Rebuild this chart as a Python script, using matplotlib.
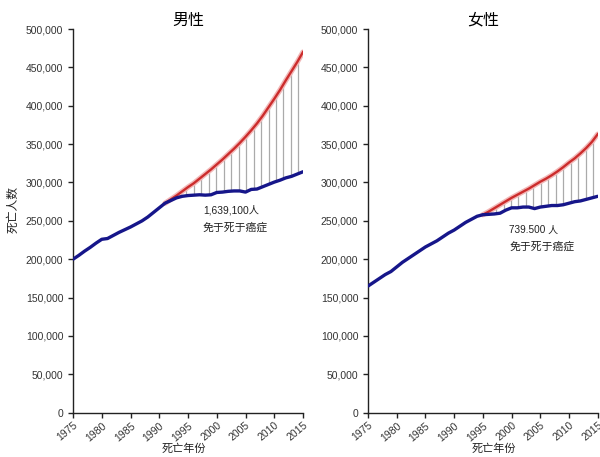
import matplotlib
matplotlib.use("Agg")
import matplotlib.pyplot as plt
import numpy as np
from matplotlib.ticker import FuncFormatter

plt.rcParams['font.family'] = ['Liberation Sans', 'Noto Sans CJK SC', 'DejaVu Sans']

years = list(range(1975, 2016))

male_actual = [200, 205, 210.5, 215.5, 221, 226, 227, 231, 235, 238.5,
               242, 246, 250, 255, 261, 267, 273, 276.5, 280, 282,
               283, 283.5, 284, 283.5, 284, 287, 287.5, 288.5, 289, 289,
               287.5, 291, 291.5, 294.5, 297.5, 300.5, 303, 306, 308, 311, 314]
male_expected_years = list(range(1991, 2016))
male_expected = [273, 278, 283, 288.5, 294, 299, 305, 311, 317, 323.5,
                 330, 337, 344, 351.5, 359.5, 368, 377, 387, 398, 409,
                 420.5, 433, 445, 457, 470]

female_actual = [165, 170, 175, 180, 184, 190, 196, 201, 206, 211,
                 216, 220, 224, 229, 234, 238, 243, 248, 252, 256,
                 258, 258.5, 259, 260, 264, 267, 267, 268, 268, 266,
                 268, 269, 270, 270, 271, 273, 275, 276, 278, 280, 282]
female_expected_years = list(range(1995, 2016))
female_expected = [258, 262, 266.5, 271, 275.5, 280, 284, 288, 292, 296.5,
                   301, 305, 309.5, 314.5, 320, 326, 331.5, 338, 345, 353, 363]

male_drop_years = [1993.4, 1994.7, 1996.0, 1997.3, 1998.6, 1999.9, 2001.2, 2002.5,
                   2003.8, 2005.1, 2006.4, 2007.7, 2009.0, 2010.3, 2011.6, 2012.9, 2014.2]
female_drop_years = [1996.0, 1997.3, 1998.6, 1999.9, 2001.2, 2002.5, 2003.8,
                     2005.1, 2006.4, 2007.7, 2009.0, 2010.3, 2011.6, 2012.9, 2014.2]

titles = ['男性', '女性']
annot_num = ['1,639,100人', '739.500 人']
annot_txt = '免于死于癌症'
xticks = [1975, 1980, 1985, 1990, 1995, 2000, 2005, 2010, 2015]
yticks = [0, 50000, 100000, 150000, 200000, 250000, 300000, 350000, 400000, 450000, 500000]

fig = plt.figure(figsize=(6, 4.57), dpi=100)
ax1 = fig.add_axes([0.1217, 0.0969, 0.3833, 0.8396])
ax2 = fig.add_axes([0.6133, 0.0969, 0.3829, 0.8396])

BLUE = '#16168a'
RED = '#cc2c2c'
HALO = '#f2b8b8'

panels = [
    (ax1, male_actual, male_expected_years, male_expected, male_drop_years, titles[0]),
    (ax2, female_actual, female_expected_years, female_expected, female_drop_years, titles[1]),
]

for ax, act, ey, exp, dy, title in panels:
    act_v = np.array(act) * 1000
    exp_v = np.array(exp) * 1000
    lo = np.interp(dy, years, act_v)
    hi = np.interp(dy, ey, exp_v)
    ax.vlines(dy, lo, hi, color='#aaaaaa', lw=0.9, zorder=1)
    ax.plot(ey, exp_v, color=HALO, lw=3.8, solid_capstyle='round', zorder=2)
    ax.plot(ey, exp_v, color=RED, lw=1.7, zorder=3)
    ax.plot(years, act_v, color=BLUE, lw=2.4, zorder=4, solid_capstyle='round')
    ax.set_xlim(1975, 2015)
    ax.set_ylim(0, 500000)
    ax.set_xticks(xticks)
    ax.set_yticks(yticks)
    ax.yaxis.set_major_formatter(FuncFormatter(lambda v, p: f'{int(v):,}'))
    for s in ['top', 'right']:
        ax.spines[s].set_visible(False)
    for s in ['left', 'bottom']:
        ax.spines[s].set_color('#222222')
        ax.spines[s].set_linewidth(1.0)
    ax.tick_params(axis='both', direction='out', length=3.5, width=1, colors='#222222',
                   labelsize=7.5, labelcolor='#333333')
    ax.tick_params(axis='x', pad=2)
    for lab in ax.get_xticklabels():
        lab.set_rotation(40)
        lab.set_ha('right')
        lab.set_rotation_mode('anchor')
    ax.set_title(title, fontsize=11.5, pad=3, family=['Noto Sans CJK SC'])
    ax.patch.set_alpha(0)

# annotations
ax1.text(1997.7, 264000, annot_num[0], fontsize=7.4, color='#222222', va='center', ha='left',
         family=['Liberation Sans', 'Noto Sans CJK SC'])
ax1.text(1997.5, 241500, annot_txt, fontsize=7.8, color='#222222', va='center', ha='left',
         family=['Noto Sans CJK SC'])
ax2.text(1999.5, 238000, annot_num[1], fontsize=7.2, color='#222222', va='center', ha='left',
         family=['Liberation Sans', 'Noto Sans CJK SC'])
ax2.text(1999.7, 216500, annot_txt, fontsize=7.8, color='#222222', va='center', ha='left',
         family=['Noto Sans CJK SC'])

fig.text(184 / 600, 1 - 449 / 457, '死亡年份', fontsize=8, ha='center', va='center',
         family=['Noto Sans CJK SC'], color='#222222')
fig.text(494 / 600, 1 - 449 / 457, '死亡年份', fontsize=8, ha='center', va='center',
         family=['Noto Sans CJK SC'], color='#222222')
fig.text(13 / 600, 1 - 210 / 457, '死亡人数', fontsize=8.5, ha='center', va='center', rotation=90,
         family=['Noto Sans CJK SC'], color='#222222')

fig.savefig('out.png', dpi=100, facecolor='white')
